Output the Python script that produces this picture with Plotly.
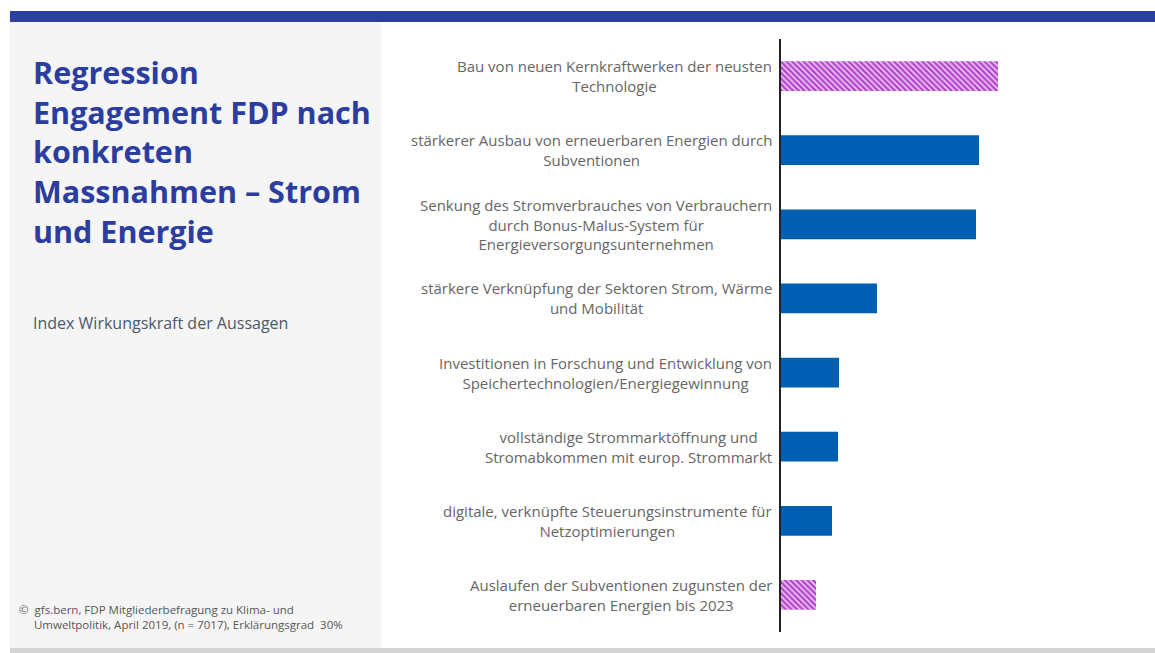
import plotly.graph_objects as go

categories = [
    "Bau von neuen Kernkraftwerken der neusten<br>Technologie",
    "stärkerer Ausbau von erneuerbaren Energien durch<br>Subventionen",
    "Senkung des Stromverbrauches von Verbrauchern<br>durch Bonus-Malus-System für<br>Energieversorgungsunternehmen",
    "stärkere Verknüpfung der Sektoren Strom, Wärme<br>und Mobilität",
    "Investitionen in Forschung und Entwicklung von<br>Speichertechnologien/Energiegewinnung",
    "vollständige Strommarktöffnung und<br>Stromabkommen mit europ. Strommarkt",
    "digitale, verknüpfte Steuerungsinstrumente für<br>Netzoptimierungen",
    "Auslaufen der Subventionen zugunsten der<br>erneuerbaren Energien bis 2023",
]
values = [2.17, 1.98, 1.95, 0.96, 0.58, 0.57, 0.51, 0.35]
negative = [True, False, False, False, False, False, False, True]

W, H = 1155, 653
L, R, T, B = 781, 1135, 39, 632
pw, ph = R - L, B - T

def px(x):
    return (x - L) / pw

def py(y):
    return (B - y) / ph

blue = "#005fb0"
purple = "#b03cc8"
lilac = "#e6bcf0"
FONT = "Open Sans"

idx = list(range(len(categories)))
neg_i = [i for i in idx if negative[i]]
pos_i = [i for i in idx if not negative[i]]

fig = go.Figure()
fig.add_trace(go.Bar(
    x=[values[i] for i in pos_i], y=pos_i, orientation="h", width=0.4,
    marker=dict(color=blue, line=dict(width=0)), hoverinfo="skip",
))
fig.add_trace(go.Bar(
    x=[values[i] for i in neg_i], y=neg_i, orientation="h", width=0.4,
    marker=dict(
        color=lilac, line=dict(width=0),
        pattern=dict(shape="\\", fgcolor=purple, bgcolor=lilac, fgopacity=1,
                     size=4, solidity=0.5, fillmode="replace"),
    ),
    hoverinfo="skip",
))

annotations = []
for i, c in enumerate(categories):
    annotations.append(dict(
        x=px(774), xref="paper", y=i, yref="y",
        text=c, showarrow=False, xanchor="right", yanchor="middle",
        align="center", font=dict(family=FONT, size=15, color="#666666"),
    ))

annotations.append(dict(
    x=px(31), xref="paper", y=py(49), yref="paper",
    text="Regression<br>Engagement FDP nach<br>konkreten<br>Massnahmen – Strom<br>und Energie",
    showarrow=False, xanchor="left", yanchor="top", align="left",
    font=dict(family=FONT, size=30.5, color="#2b3d9f", weight="bold"),
))
annotations.append(dict(
    x=px(31), xref="paper", y=py(323), yref="paper",
    text="Index Wirkungskraft der Aussagen",
    showarrow=False, xanchor="left", yanchor="middle", align="left",
    font=dict(family=FONT, size=16, color="#4a5868"),
))
annotations.append(dict(
    x=px(17), xref="paper", y=py(617), yref="paper",
    text="©  gfs.bern, FDP Mitgliederbefragung zu Klima- und<br>     Umweltpolitik, April 2019, (n = 7017), Erklärungsgrad  30%",
    showarrow=False, xanchor="left", yanchor="middle", align="left",
    font=dict(family=FONT, size=11.5, color="#555555"),
))

shapes = [
    dict(type="rect", xref="paper", yref="paper", x0=px(10), x1=px(381), y0=py(648), y1=py(22),
         fillcolor="#f5f5f5", line=dict(width=0), layer="below"),
    dict(type="rect", xref="paper", yref="paper", x0=px(10), x1=px(1160), y0=py(22), y1=py(11),
         fillcolor="#2b3f9e", line=dict(width=0), layer="below"),
    dict(type="rect", xref="paper", yref="paper", x0=px(10), x1=px(1160), y0=py(656), y1=py(648),
         fillcolor="#d4d4d4", line=dict(width=0), layer="below"),
]

fig.update_layout(
    width=W, height=H,
    margin=dict(l=L, r=W - R, t=T, b=H - B),
    paper_bgcolor="white", plot_bgcolor="white",
    showlegend=False,
    barmode="overlay",
    annotations=annotations,
    shapes=shapes,
    xaxis=dict(range=[0, pw / 100], visible=False, fixedrange=True),
    yaxis=dict(range=[len(categories) - 0.5, -0.5], showticklabels=False, showgrid=False,
               zeroline=False, showline=True, linecolor="#222222", linewidth=1.5, ticks="",
               fixedrange=True),
    font=dict(family=FONT),
)

fig.write_html("out.html", config={"displayModeBar": False},
               post_script="document.body.style.margin='0';document.body.style.overflow='hidden';")
